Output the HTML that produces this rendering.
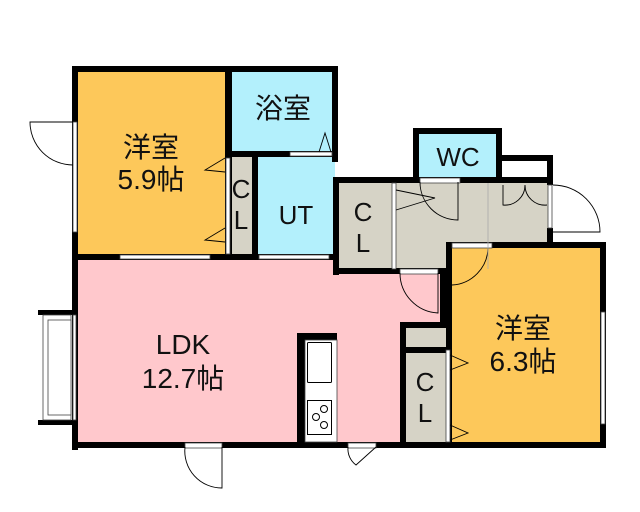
<!DOCTYPE html>
<html><head><meta charset="utf-8"><style>
html,body{margin:0;padding:0;background:#fff;width:640px;height:512px;overflow:hidden}
text{font-family:"Liberation Sans","Noto Sans CJK JP",sans-serif;fill:#111}
</style></head><body>
<svg width="640" height="512" viewBox="0 0 640 512" xmlns="http://www.w3.org/2000/svg">
<!-- fills -->
<rect x="75" y="70" width="155" height="187" fill="#FDC85A"/>
<rect x="232" y="70" width="103" height="87" fill="#B3F0FC"/>
<rect x="232" y="157" width="25" height="100" fill="#D6D3C6"/>
<rect x="257" y="157" width="78" height="100" fill="#B3F0FC"/>
<rect x="75" y="257" width="260" height="188" fill="#FFC8CC"/>
<rect x="333" y="272" width="110" height="173" fill="#FFC8CC"/>
<rect x="336" y="180" width="216" height="91" fill="#D6D3C6"/>
<rect x="416" y="130" width="84" height="50" fill="#B3F0FC"/>
<rect x="449" y="245" width="154" height="200" fill="#FDC85A"/>
<rect x="403" y="325" width="43" height="120" fill="#D6D3C6"/>
<!-- walls -->
<g fill="#000">
<rect x="72" y="66" width="162" height="6"/>
<rect x="228" y="66" width="110" height="6"/>
<rect x="72" y="66" width="6" height="384"/>
<rect x="225" y="66" width="7" height="194"/>
<rect x="332" y="66" width="6" height="96"/>
<rect x="228" y="151" width="110" height="6"/>
<rect x="252" y="151" width="6" height="109"/>
<rect x="72" y="254" width="266" height="6"/>
<rect x="333" y="177" width="6" height="98"/>
<rect x="333" y="177" width="220" height="6"/>
<rect x="413" y="128" width="6" height="54"/>
<rect x="413" y="128" width="89" height="6"/>
<rect x="496" y="128" width="6" height="54"/>
<rect x="500" y="155" width="53" height="6"/>
<rect x="547" y="155" width="6" height="30"/>
<rect x="547" y="228" width="6" height="19"/>
<rect x="333" y="268" width="117" height="6"/>
<rect x="440" y="268" width="6" height="58"/>
<rect x="446" y="242" width="160" height="6"/>
<rect x="446" y="242" width="6" height="206"/>
<rect x="600" y="242" width="6" height="206"/>
<rect x="400" y="322" width="46" height="6"/>
<rect x="400" y="322" width="6" height="126"/>
<rect x="403" y="347" width="43" height="6"/>
<rect x="72" y="442" width="534" height="6"/>
<rect x="297" y="333" width="40" height="7"/>
<rect x="297" y="333" width="8" height="112"/>
<rect x="38" y="310" width="38" height="5"/>
<rect x="38" y="420" width="38" height="5"/>
</g>
<!-- openings (white) -->
<g fill="#fff" stroke="#444" stroke-width="0.8">
<rect x="73" y="122" width="4" height="110"/>
<rect x="120" y="255" width="90" height="4"/>
<rect x="259" y="255" width="70" height="4"/>
<rect x="290" y="152" width="42" height="4"/>
<rect x="226" y="158" width="4" height="96"/>
<rect x="420" y="178" width="40" height="5"/>
<rect x="392" y="183" width="4" height="86"/>
<rect x="548" y="185" width="4" height="43"/>
<rect x="400" y="269" width="38" height="5"/>
<rect x="452" y="243" width="40" height="5"/>
<rect x="446" y="350" width="4" height="92"/>
<rect x="601" y="312" width="4" height="112"/>
<rect x="73" y="315" width="3" height="105"/>
<rect x="185" y="443" width="37" height="5"/>
<rect x="348" y="443" width="28" height="5"/>
<rect x="305" y="340" width="32" height="102" fill="#fff"/>
<rect x="43" y="315" width="28" height="105" fill="#fff"/>
<rect x="48" y="320" width="23" height="95" fill="#fff"/>
</g>
<!-- kitchen -->
<g fill="#fff" stroke="#000" stroke-width="1">
<rect x="307.5" y="342.5" width="24" height="40" rx="1"/>
<rect x="307.5" y="400.5" width="24" height="34"/>
<circle cx="324" cy="409" r="3.5"/><circle cx="316" cy="417" r="3.5"/><circle cx="324" cy="425" r="3.5"/>
</g>
<!-- door swings -->
<g fill="none" stroke="#000" stroke-width="0.9">
<path d="M73 122 L30 122 A43 43 0 0 0 73 165"/>
<path d="M222 447 L222 488 A37 37 0 0 1 185 447"/>
<path d="M376 447 L356 465 A20 20 0 0 1 348 447"/>
<path d="M458 182 L458 220 A38 38 0 0 1 420 182"/>
<path d="M438 273 L438 313 A40 40 0 0 1 400 273"/>
<path d="M452 285 A38 38 0 0 0 488 248"/>
<path d="M553 185 A47 47 0 0 1 600 232 L553 232"/>
<path d="M396 190 L435 198 L396 210"/>
<path d="M503 185 L503 205 A20 20 0 0 0 525 185 A20 20 0 0 0 547 205"/>
<path d="M225 158 L205 170 L225 172 M225 228 L205 240 L225 242"/>
<path d="M319 152 L325 133 L331 152"/>
<path d="M450 355 L468 363 L450 370 M450 425 L468 433 L450 440"/>
</g>
<line x1="488" y1="183" x2="488" y2="269" stroke="#aaa" stroke-width="0.8"/>
<!-- labels -->
<g font-size="28" text-anchor="middle">
<text x="151" y="157">洋室</text>
<text x="151" y="189">5.9帖</text>
<text x="283" y="118">浴室</text>
<text x="183" y="354">LDK</text>
<text x="183" y="388">12.7帖</text>
<text x="523" y="338">洋室</text>
<text x="523" y="371">6.3帖</text>
</g>
<g font-size="26" text-anchor="middle">
<text x="296" y="224">UT</text>
<text x="458" y="166">WC</text>
<text x="241" y="198">C</text>
<text x="241" y="229">L</text>
<text x="363" y="221">C</text>
<text x="363" y="252">L</text>
<text x="425" y="391">C</text>
<text x="425" y="422">L</text>
</g>
</svg>
</body></html>
